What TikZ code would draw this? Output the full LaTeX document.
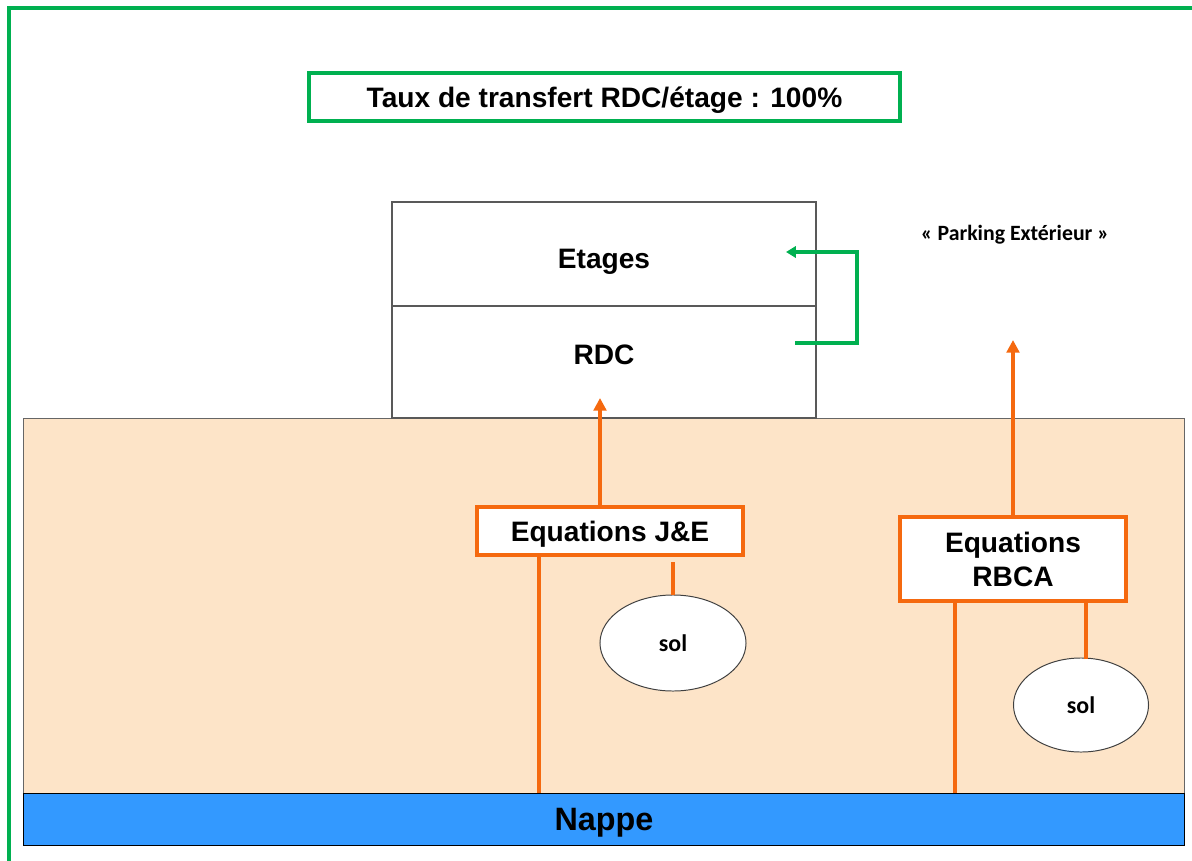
\documentclass[tikz,border=0pt]{standalone}
\usepackage{fontspec}
\setmainfont{Liberation Sans}
\newfontfamily\calibri{Carlito}
\usetikzlibrary{shapes.geometric,arrows.meta}
\definecolor{framegreen}{RGB}{0,176,80}
\definecolor{eqorange}{RGB}{245,105,15}
\definecolor{soilpeach}{RGB}{253,228,200}
\definecolor{nappeblue}{RGB}{51,153,255}
\definecolor{buildgray}{RGB}{89,89,89}
\begin{document}
\begin{tikzpicture}[
        x=0.025cm, y=-0.025cm,
        bigfont/.style={font=\fontsize{20}{24}\selectfont\bfseries, text depth=0pt},
        floor/.style={rectangle, draw=buildgray, line width=1pt, minimum width=10.6cm, inner sep=0pt, bigfont},
        eqbox/.style={rectangle, draw=eqorange, line width=2.4pt, fill=white, align=center, inner sep=0pt, bigfont},
        solnode/.style={ellipse, draw=black!75, fill=white, line width=0.7pt, inner sep=0pt, font=\calibri\fontsize{17}{20}\selectfont\bfseries},
        orangeline/.style={draw=eqorange, line width=2.4pt},
        orangearrow/.style={orangeline, -{Triangle[width=9pt,length=9pt]}},
        greenarrow/.style={draw=framegreen, line width=2.4pt, -{Triangle[width=8pt,length=7pt]}}
    ]
        \useasboundingbox (0,0) rectangle (1192,861);
        % Outer frame
        \draw[framegreen, line width=2.6pt] (9,861) -- (9,8) -- (1192,8);
        
        % Title
        \node[rectangle, draw=framegreen, line width=2.4pt, minimum width=14.775cm, minimum height=1.2cm, inner sep=0pt, bigfont] (title) at (604.5,97) {Taux de transfert RDC/étage : 100\%};
        
        % Ground layers
        \node[rectangle, draw=black!60, fill=soilpeach, line width=0.6pt, minimum width=29cm, minimum height=9.375cm, inner sep=0pt] (soil) at (604,605.5) {};
        \node[rectangle, draw=black, fill=nappeblue, line width=0.6pt, minimum width=29cm, minimum height=1.3cm, inner sep=0pt, text depth=0pt, font=\fontsize{23}{28}\selectfont\bfseries] (nappe) at (604,819) {Nappe};
        
        % Building
        \node[floor, minimum height=2.6cm, text height=20pt] (etages) at (604,254) {Etages};
        \node[floor, minimum height=2.8cm, text depth=10pt] (rdc) at (604,362) {RDC};
        
        % Outside parking
        \node[font=\calibri\fontsize{15.5}{18}\selectfont\bfseries, text depth=0pt] (parking) at (1015,233) {« Parking Extérieur »};
        
        % Equations boxes and soil sources
        \node[eqbox, minimum width=6.65cm, minimum height=1.2cm] (eqje) at (610,531) {Equations J\&E};
        \node[eqbox, minimum width=5.65cm, minimum height=2.1cm] (eqrbca) at (1013,559) {Equations\\RBCA};
        \node[solnode, minimum width=3.65cm, minimum height=2.4cm] (sol1) at (673,643) {sol};
        \node[solnode, minimum width=3.375cm, minimum height=2.35cm] (sol2) at (1081,705) {sol};
        
        % Helper points
        \coordinate (rdctip) at (600,398);
        \coordinate (parktip) at (1013,340);
        \coordinate (napje) at (539,793);
        \coordinate (naprbca) at (955,793);
        \coordinate (sol2top) at (1086,659);
        \coordinate (gstart) at (795,343);
        \coordinate (gend) at (786,252);
        
        % Orange connectors
        \draw[orangearrow] (eqje.north -| rdctip) -- (rdctip);
        \draw[orangearrow] (eqrbca.north) -- (parktip);
        \draw[orangeline] (napje) -- (eqje.south -| napje);
        \draw[orangeline] (naprbca) -- (eqrbca.south -| naprbca);
        \draw[orangeline] (sol1.north) -- ([yshift=-5*0.025cm]sol1.north |- eqje.south);
        \draw[orangeline] (sol2top) -- (sol2top |- eqrbca.south);
        
        % Transfer RDC -> etages
        \draw[greenarrow] (gstart) -- (857,343) |- (gend);
        
    \end{tikzpicture}
\end{document}
